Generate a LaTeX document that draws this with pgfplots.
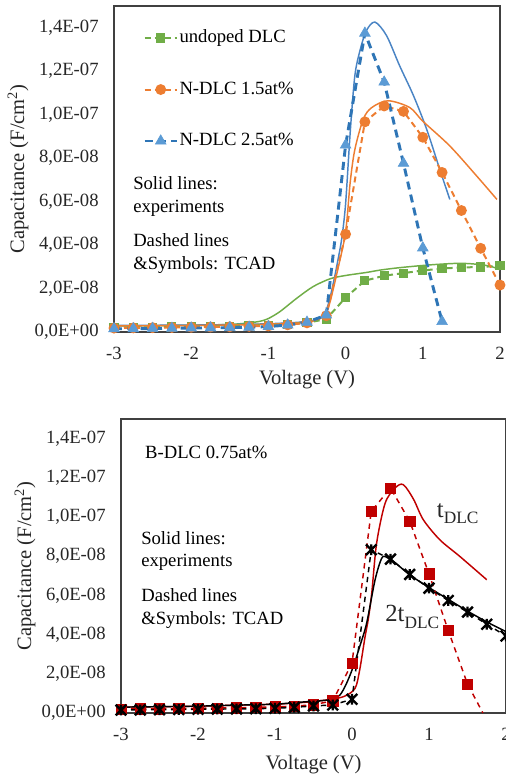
\documentclass[border=0pt]{standalone}
\usepackage{fontspec}
\setmainfont{Liberation Serif}
\usepackage{pgfplots}
\pgfplotsset{compat=1.18}
\definecolor{xgreen}{HTML}{70AD47}
\definecolor{xorange}{HTML}{ED7D31}
\definecolor{xblue}{HTML}{5B9BD5}
\definecolor{xbluedark}{HTML}{2E75B6}
\definecolor{xbluesolid}{HTML}{4A84C4}
\definecolor{xred}{HTML}{C00000}
\definecolor{txt}{HTML}{262626}
\pgfdeclareplotmark{xstar}{%
  \pgfpathmoveto{\pgfqpoint{-\pgfplotmarksize}{-\pgfplotmarksize}}%
  \pgfpathlineto{\pgfqpoint{\pgfplotmarksize}{\pgfplotmarksize}}%
  \pgfpathmoveto{\pgfqpoint{-\pgfplotmarksize}{\pgfplotmarksize}}%
  \pgfpathlineto{\pgfqpoint{\pgfplotmarksize}{-\pgfplotmarksize}}%
  \pgfpathmoveto{\pgfqpoint{0pt}{-\pgfplotmarksize}}%
  \pgfpathlineto{\pgfqpoint{0pt}{\pgfplotmarksize}}%
  \pgfusepathqstroke}
\tikzset{txtnode/.style={font=\fontsize{14}{16.7}\selectfont, text=black, align=left, inner sep=0pt, anchor=west}}
\pgfplotsset{
  cvaxis/.style={
    scale only axis, anchor=south west,
    xmin=-3, xmax=2, ymin=0, ymax=15,
    xtick={-3,-2,-1,0,1,2},
    xticklabels={-3,-2,-1,0,1,2},
    ytick={0,2,4,6,8,10,12,14},
    yticklabels={{0,0E+00},{2,0E-08},{4,0E-08},{6,0E-08},{8,0E-08},{1,0E-07},{1,2E-07},{1,4E-07}},
    tick style={draw=none},
    axis line style={draw=black!75, line width=0.8pt},
    ticklabel style={font=\rmfamily\fontsize{14}{16}\selectfont, text=txt},
    yticklabel style={xshift=-8pt},
    xticklabel style={yshift=-7.5pt},
    label style={font=\fontsize{15.4}{18}\selectfont, text=txt},
    xlabel={Voltage (V)},
    ylabel={Capacitance (F/cm\textsuperscript{2})},
    clip=false,
  },
}
\begin{document}
\begin{tikzpicture}
\path[use as bounding box] (0,0) rectangle (379.5pt,582pt);
% ---------------- top panel ----------------
\begin{axis}[cvaxis,
  at={(85.5pt,333pt)}, width=289.5pt, height=244.5pt,
  xlabel style={at={(axis description cs:0.5,-0.1472)}, anchor=center},
  ylabel style={at={(axis description cs:-0.2487,0.5)}, anchor=center},
  legend style={draw=none, fill=none, inner sep=0pt, row sep=25.6pt, column sep=1pt,
    font=\fontsize{14}{16}\selectfont,
    nodes={inner sep=0pt, text height=10pt, text depth=3pt},
    at={(axis description cs:0.0751,0.929)}, anchor=north west},
  legend cell align=left,
  legend image code/.code={\draw[mark repeat=2,mark phase=2] plot coordinates {(0pt,0pt) (12pt,0pt) (24pt,0pt)};},
]
% experiments (solid)
\addplot[xgreen, line width=1.1pt, smooth, tension=0.5, forget plot] coordinates {
(-3,0.28) (-2.5,0.29) (-2,0.31) (-1.5,0.35) (-1.25,0.42) (-1.1,0.50) (-1.0,0.62) (-0.85,0.94) (-0.63,1.56) (-0.42,2.09) (-0.2,2.45) (0,2.6) (0.27,2.74) (0.45,2.85) (0.7,2.96) (1.1,3.09) (1.48,3.16) (1.75,3.1) (1.9,3.0) (2.0,2.86)};
\addplot[xbluesolid, line width=1.1pt, smooth, tension=0.5, forget plot] coordinates {
(-3,0.30) (-2,0.32) (-1.5,0.34) (-1,0.38) (-0.6,0.45) (-0.4,0.55) (-0.3,0.72) (-0.25,1.0) (-0.2,1.6) (-0.15,2.4) (-0.1,3.3) (-0.05,4.3) (0,5.9) (0.06,9.2) (0.12,11.8) (0.19,13.0) (0.27,13.87) (0.38,14.26) (0.53,13.64) (0.70,12.25) (0.88,10.87) (1.05,9.33) (1.22,7.48) (1.35,6.1)};
\addplot[xorange, line width=1.1pt, smooth, tension=0.5, forget plot] coordinates {
(-3,0.28) (-2,0.30) (-1.5,0.32) (-1,0.36) (-0.6,0.43) (-0.4,0.52) (-0.3,0.68) (-0.25,0.95) (-0.2,1.4) (-0.1,2.9) (0,4.6) (0.06,6.9) (0.12,8.4) (0.23,9.8) (0.34,10.33) (0.55,10.64) (0.83,10.33) (1.0,9.7) (1.35,8.56) (1.7,7.17) (1.96,6.1)};
% TCAD (dashed + symbols)
\addplot[xgreen, line width=1.5pt, dash pattern=on 4.5pt off 3pt, mark=square*, mark size=2.7pt, mark options={solid, fill=xgreen, draw=xgreen}] coordinates {
(-3,0.20) (-2.75,0.21) (-2.5,0.22) (-2.25,0.23) (-2,0.24) (-1.75,0.25) (-1.5,0.27) (-1.25,0.29) (-1,0.31) (-0.75,0.35) (-0.5,0.42) (-0.25,0.60) (0,1.58) (0.25,2.36) (0.5,2.59) (0.75,2.71) (1,2.83) (1.25,2.92) (1.5,2.97) (1.75,2.99) (2,3.05)};
\addlegendentry{undoped DLC}
\addplot[xorange, line width=1.5pt, dash pattern=on 4.5pt off 3pt, mark=*, mark size=3.3pt, mark options={solid, fill=xorange, draw=xorange}] coordinates {
(-3,0.18) (-2.75,0.19) (-2.5,0.20) (-2.25,0.21) (-2,0.22) (-1.75,0.23) (-1.5,0.24) (-1.25,0.26) (-1,0.28) (-0.75,0.33) (-0.5,0.42) (-0.25,0.75) (0,4.5) (0.25,9.67) (0.5,10.4) (0.75,10.15) (1,8.96) (1.25,7.34) (1.5,5.59) (1.75,3.85) (2,2.16)};
\addlegendentry{N-DLC 1.5at\%}
\addplot[xbluedark, line width=2.2pt, dash pattern=on 6pt off 4pt, mark=triangle*, mark size=4.6pt, mark options={solid, fill=xblue, draw=xblue, line width=0.5pt}] coordinates {
(-3,0.15) (-2.75,0.15) (-2.5,0.16) (-2.25,0.17) (-2,0.18) (-1.75,0.19) (-1.5,0.20) (-1.25,0.22) (-1,0.25) (-0.75,0.32) (-0.5,0.45) (-0.25,0.78) (0,8.6) (0.25,13.75) (0.5,11.5) (0.75,7.76) (1,3.87) (1.25,0.48)};
\addlegendentry{N-DLC 2.5at\%}
\node[txtnode] at (axis cs:-2.754,6.23) {Solid lines:\\experiments};
\node[txtnode] at (axis cs:-2.754,3.61) {Dashed lines\\\&Symbols: TCAD};
\end{axis}
% ---------------- bottom panel ----------------
\begin{axis}[cvaxis,
  at={(90.75pt,47.25pt)}, width=288.75pt, height=220.5pt,
  xlabel style={at={(axis description cs:0.5,-0.1769)}, anchor=center},
  ylabel style={at={(axis description cs:-0.2494,0.5)}, anchor=center},
]
\addplot[xred, line width=1.1pt, smooth, tension=0.5] coordinates {
(-3,0.30) (-2,0.35) (-1.5,0.40) (-1,0.45) (-0.6,0.55) (-0.3,0.68) (-0.1,0.85) (0.04,1.26) (0.10,2.2) (0.17,3.9) (0.21,4.75) (0.256,6.1) (0.32,8.67) (0.43,10.7) (0.56,11.48) (0.667,11.65) (0.80,10.9) (0.926,9.86) (1.14,8.84) (1.40,7.99) (1.75,6.8)};
\addplot[black, line width=1.1pt, smooth, tension=0.5] coordinates {
(-3,0.30) (-2,0.35) (-1.5,0.40) (-1,0.45) (-0.675,0.55) (-0.4,0.63) (-0.26,0.7) (-0.156,0.92) (-0.07,1.52) (0.017,2.37) (0.10,3.39) (0.19,4.58) (0.30,6.8) (0.386,7.9) (0.45,7.95) (0.55,7.7) (0.75,7.05) (1.0,6.4) (1.25,5.8) (1.5,5.2) (1.75,4.65) (2.0,4.15)};
% TCAD red
\addplot[xred, line width=1.1pt, dash pattern=on 4pt off 3.5pt] coordinates {
(-3,0.20) (-2.75,0.21) (-2.5,0.22) (-2.25,0.23) (-2,0.24) (-1.75,0.25) (-1.5,0.27) (-1.25,0.29) (-1,0.31) (-0.75,0.35) (-0.5,0.42) (-0.25,0.62) (0,2.54) (0.25,10.29) (0.5,11.48) (0.75,9.78) (1,7.1) (1.25,4.21) (1.5,1.48) (1.7,0)};
\addplot[only marks, mark=square*, mark size=3.9pt, mark options={fill=xred, draw=xred}] coordinates {
(-3,0.20) (-2.75,0.21) (-2.5,0.22) (-2.25,0.23) (-2,0.24) (-1.75,0.25) (-1.5,0.27) (-1.25,0.29) (-1,0.31) (-0.75,0.35) (-0.5,0.42) (-0.25,0.62) (0,2.54) (0.25,10.29) (0.5,11.48) (0.75,9.78) (1,7.1) (1.25,4.21) (1.5,1.48)};
% TCAD black
\addplot[black, line width=1.1pt, dash pattern=on 4pt off 3.5pt, mark=xstar, mark size=4pt, mark options={solid, line width=1.8pt}] coordinates {
(-3,0.15) (-2.75,0.16) (-2.5,0.17) (-2.25,0.18) (-2,0.19) (-1.75,0.20) (-1.5,0.21) (-1.25,0.22) (-1,0.24) (-0.75,0.29) (-0.5,0.36) (-0.25,0.41) (0,0.70) (0.25,8.33) (0.5,7.85) (0.75,7.07) (1,6.37) (1.25,5.74) (1.5,5.15) (1.75,4.53) (2,3.93)};
\node[txtnode] at (axis cs:-2.69,13.27) {B-DLC 0.75at\%};
\node[txtnode] at (axis cs:-2.74,8.27) {Solid lines:\\experiments};
\node[txtnode] at (axis cs:-2.74,5.33) {Dashed lines\\\&Symbols: TCAD};
\node[font=\fontsize{18.5}{20}\selectfont, text=txt, inner sep=0pt, anchor=base west] at (axis cs:1.10,10.0) {t\raisebox{-5pt}{\fontsize{13}{14}\selectfont DLC}};
\node[font=\fontsize{18.5}{20}\selectfont, text=txt, inner sep=0pt, anchor=base west] at (axis cs:0.43,4.67) {2t\raisebox{-5pt}{\fontsize{13}{14}\selectfont DLC}};
\end{axis}
\end{tikzpicture}
\end{document}
